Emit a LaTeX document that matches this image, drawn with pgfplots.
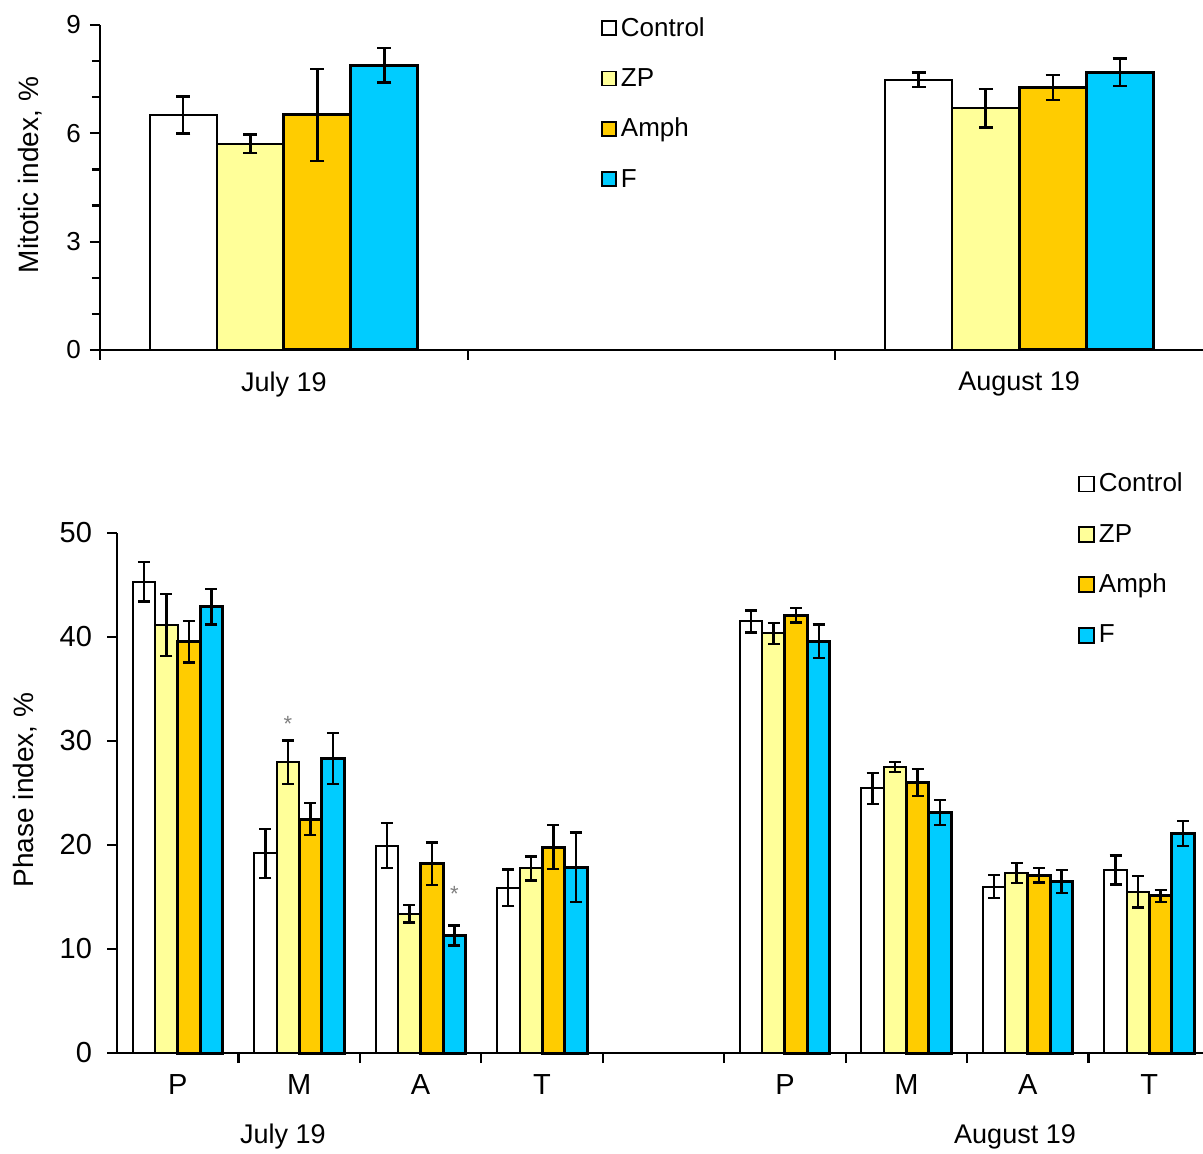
\documentclass[border=0pt]{standalone}
\usepackage{fontspec}
\setmainfont{Liberation Sans}
\usepackage{pgfplots}
\pgfplotsset{compat=1.18}
\definecolor{zpc}{HTML}{FFFF99}
\definecolor{amc}{HTML}{FFCC00}
\definecolor{fc}{HTML}{00CCFF}
\pgfplotsset{
  mybars/.style={ybar, axis lines=left, axis line style={-}, tick align=outside,
    ymin=0, clip=false, scale only axis, anchor=south west,
    /pgf/number format/assume math mode=true,
    error bars/y dir=both, error bars/y explicit,
    error bars/error bar style={line width=1.2pt, black, solid},
    legend cell align=left,
    tick style={black, line width=1.1pt}},
  ctrl/.style={draw=black, fill=white, line width=1pt},
  zps/.style={draw=black, fill=zpc, line width=1pt},
  ams/.style={draw=black, fill=amc, line width=1.5pt},
  fs/.style={draw=black, fill=fc, line width=1.5pt},
}
\begin{document}
\begin{tikzpicture}
\useasboundingbox (0,0) rectangle (601.5pt,576.5pt);
% ---------------- top chart ----------------
\begin{axis}[mybars, at={(50pt,401.5pt)}, width=551.5pt, height=162.5pt,
  xmin=-0.5, xmax=2.5, ymax=9,
  axis line style={line width=1.3pt},
  ytick={0,3,6,9}, minor y tick num=2, major tick length=5pt, minor tick length=4pt,
  xtick={-0.5,0.5,1.5}, xticklabels={,,},
  extra x ticks={0,2}, extra x tick labels={July 19, August 19},
  extra x tick style={major tick length=0pt, xticklabel style={yshift=-7.5pt}},
  bar width=0.1823,
  error bars/error mark options={rotate=90, mark size=3.5pt, line width=1.2pt, black},
  yticklabel style={font=\fontsize{13}{15}\selectfont, xshift=-1pt},
  xticklabel style={font=\fontsize{13.5}{15}\selectfont},
  legend image code/.code={\draw[#1,line width=0.9pt] (0pt,-3pt) rectangle (7pt,4pt);},
  legend style={at={(0.454,1.0255)}, anchor=north west, draw=none, fill=none,
    inner sep=0pt, row sep=13.2pt, column sep=2pt,
    nodes={inner sep=0pt, text height=9.5pt, text depth=2.5pt, font=\fontsize{13}{15}\selectfont}},
]
\addplot[ctrl, bar shift=-0.2735] coordinates {(0,6.51) +- (0,0.51) (2,7.48) +- (0,0.20)};
\addplot[zps, bar shift=-0.0912] coordinates {(0,5.71) +- (0,0.26) (2,6.69) +- (0,0.53)};
\addplot[ams, bar shift=0.0912] coordinates {(0,6.51) +- (0,1.27) (2,7.27) +- (0,0.35)};
\addplot[fs, bar shift=0.2735] coordinates {(0,7.89) +- (0,0.48) (2,7.69) +- (0,0.38)};
\legend{Control,ZP,Amph,F}
\end{axis}
\node[rotate=90, font=\fontsize{14}{16}\selectfont] at (15pt,489pt) {Mitotic index, \%};
% ---------------- bottom chart ----------------
\begin{axis}[mybars, at={(58.5pt,50pt)}, width=546.5pt, height=260pt,
  xmin=-0.5, xmax=8.5, ymax=50,
  axis line style={line width=1.1pt},
  ytick={0,10,20,30,40,50}, major tick length=5pt,
  xtick={0.5,1.5,2.5,3.5,4.5,5.5,6.5,7.5}, xticklabels={,,,,,,,},
  extra x ticks={0,1,2,3,5,6,7,8}, extra x tick labels={P,M,A,T,P,M,A,T},
  extra x tick style={major tick length=0pt, xticklabel style={yshift=-7pt}},
  bar width=0.1853,
  error bars/error mark options={rotate=90, mark size=3pt, line width=1.2pt, black},
  yticklabel style={font=\fontsize{14.5}{16}\selectfont, xshift=-4pt},
  xticklabel style={font=\fontsize{14.5}{16}\selectfont},
  legend image code/.code={\draw[#1,line width=0.9pt] (0pt,-3.5pt) rectangle (7.5pt,4pt);},
  legend style={at={(0.879,1.118)}, anchor=north west, draw=none, fill=none,
    inner sep=0pt, row sep=12.7pt, column sep=2pt,
    nodes={inner sep=0pt, text height=9.8pt, text depth=2.7pt, font=\fontsize{13}{15}\selectfont}},
]
\addplot[ctrl, bar shift=-0.278] coordinates {
  (0,45.3) +- (0,1.9) (1,19.2) +- (0,2.35) (2,19.95) +- (0,2.15) (3,15.9) +- (0,1.75)
  (5,41.5) +- (0,1.05) (6,25.45) +- (0,1.5) (7,16.0) +- (0,1.1) (8,17.6) +- (0,1.4)};
\addplot[zps, bar shift=-0.0927] coordinates {
  (0,41.15) +- (0,3.0) (1,27.95) +- (0,2.1) (2,13.4) +- (0,0.85) (3,17.75) +- (0,1.15)
  (5,40.35) +- (0,1.0) (6,27.5) +- (0,0.5) (7,17.3) +- (0,0.95) (8,15.5) +- (0,1.5)};
\addplot[ams, bar shift=0.0927] coordinates {
  (0,39.55) +- (0,2.0) (1,22.5) +- (0,1.55) (2,18.2) +- (0,2.05) (3,19.8) +- (0,2.1)
  (5,42.1) +- (0,0.7) (6,26.0) +- (0,1.3) (7,17.1) +- (0,0.7) (8,15.1) +- (0,0.6)};
\addplot[fs, bar shift=0.278] coordinates {
  (0,42.9) +- (0,1.7) (1,28.3) +- (0,2.45) (2,11.3) +- (0,0.95) (3,17.85) +- (0,3.35)
  (5,39.6) +- (0,1.6) (6,23.1) +- (0,1.2) (7,16.5) +- (0,1.1) (8,21.1) +- (0,1.2)};
\legend{Control,ZP,Amph,F}
\node[gray, font=\fontsize{11}{13}\selectfont] at (axis cs:0.9073,31.6) {*};
\node[gray, font=\fontsize{11}{13}\selectfont] at (axis cs:2.278,15.3) {*};
\end{axis}
\node[rotate=90, font=\fontsize{14}{16}\selectfont] at (12.5pt,181.5pt) {Phase index, \%};
\node[font=\fontsize{13.5}{15}\selectfont] at (141.5pt,8pt) {July 19};
\node[font=\fontsize{13.5}{15}\selectfont] at (507.5pt,8pt) {August 19};
\end{tikzpicture}
\end{document}
